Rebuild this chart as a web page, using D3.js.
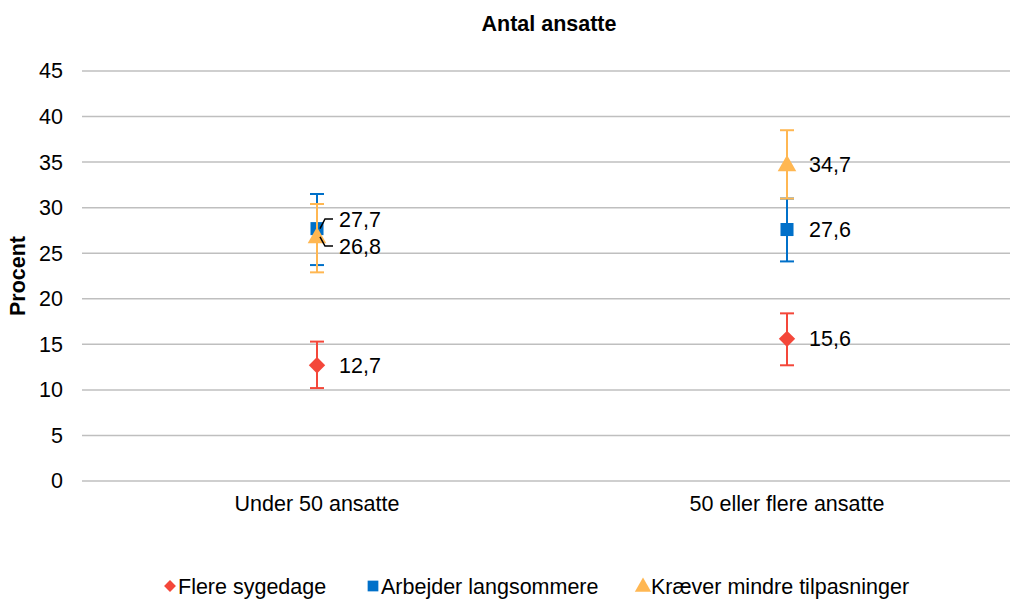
<!DOCTYPE html>
<html>
<head>
<meta charset="utf-8">
<script src="https://cdn.jsdelivr.net/npm/d3@7"></script>
<style>
  body { margin: 0; background: #fff; }
  text { font-family: "Liberation Sans", Arial, sans-serif; }
</style>
</head>
<body>
<script>
// Data
const categories = ["Under 50 ansatte", "50 eller flere ansatte"];
const seriesNames = ["Flere sygedage", "Arbejder langsommere", "Kræver mindre tilpasninger"];
const sygedage = [12.7, 15.6];
const sygedageLow = [10.2, 12.7];
const sygedageHigh = [15.3, 18.4];
const langsommere = [27.7, 27.6];
const langsommereLow = [23.7, 24.1];
const langsommereHigh = [31.5, 31.0];
const tilpasninger = [26.8, 34.7];
const tilpasningerLow = [22.9, 31.0];
const tilpasningerHigh = [30.4, 38.5];
const yTicks = [0, 5, 10, 15, 20, 25, 30, 35, 40, 45];

const colors = ["#F4473A", "#0070C9", "#FFB752"];
const shapes = [d3.symbolDiamond2, d3.symbolSquare, d3.symbolTriangle];

const width = 1010;
const height = 601;
const fs = 21.5;

const svg = d3.select("body").append("svg")
    .attr("width", width)
    .attr("height", height);

const x = d3.scaleBand().domain(categories).range([82, 1022]);
const y = d3.scaleLinear().domain([0, 45]).range([481, 71]);

// gitterlinjer
svg.append("g").selectAll("line")
    .data(yTicks)
    .enter().append("line")
    .attr("x1", 82).attr("x2", width)
    .attr("y1", d => y(d)).attr("y2", d => y(d))
    .attr("stroke", "#BFBFBF").attr("stroke-width", 1.5);

const yAxis = svg.append("g")
    .attr("transform", "translate(82,0)")
    .call(d3.axisLeft(y).tickValues(yTicks).tickSize(0).tickPadding(19));
yAxis.select(".domain").remove();
yAxis.selectAll("text").attr("font-size", fs).attr("fill", "#000")
    .style("font-family", "Liberation Sans, Arial, sans-serif");

const xAxis = svg.append("g")
    .attr("transform", "translate(0,481)")
    .call(d3.axisBottom(x).tickSize(0).tickPadding(15));
xAxis.select(".domain").remove();
xAxis.selectAll("text").attr("font-size", fs).attr("fill", "#000")
    .style("font-family", "Liberation Sans, Arial, sans-serif");

svg.append("text")
    .attr("x", 549).attr("y", 31)
    .attr("text-anchor", "middle")
    .attr("font-size", fs).attr("font-weight", "bold")
    .text("Antal ansatte");

svg.append("text")
    .attr("transform", "translate(25,276) rotate(-90)")
    .attr("text-anchor", "middle")
    .attr("font-size", fs).attr("font-weight", "bold")
    .text("Procent");

const series = [
    { name: seriesNames[0], vals: sygedage, lo: sygedageLow, hi: sygedageHigh },
    { name: seriesNames[1], vals: langsommere, lo: langsommereLow, hi: langsommereHigh },
    { name: seriesNames[2], vals: tilpasninger, lo: tilpasningerLow, hi: tilpasningerHigh }
];

const cx = c => x(c) + x.bandwidth() / 2;

// fejlsøjler og markører
series.forEach((s, si) => {
    const g = svg.append("g");
    categories.forEach((c, i) => {
        const px = cx(c);
        g.append("line")
            .attr("x1", px).attr("x2", px)
            .attr("y1", y(s.lo[i])).attr("y2", y(s.hi[i]))
            .attr("stroke", colors[si]).attr("stroke-width", 2);
        [s.lo[i], s.hi[i]].forEach(v => {
            g.append("line")
                .attr("x1", px - 7).attr("x2", px + 7)
                .attr("y1", y(v)).attr("y2", y(v))
                .attr("stroke", colors[si]).attr("stroke-width", 2);
        });
        g.append("path")
            .attr("d", d3.symbol().type(shapes[si]).size(si === 2 ? 150 : 170)())
            .attr("transform", `translate(${px},${y(s.vals[i]) + (si === 2 ? 1 : 0)})`)
            .attr("fill", colors[si]);
    });
});

// dataetiketter
const fmt = v => v.toFixed(1).replace(".", ",");
const labels = [
    { si: 0, ci: 0, ly: null },
    { si: 1, ci: 0, ly: 219 },
    { si: 2, ci: 0, ly: 246 },
    { si: 0, ci: 1, ly: null },
    { si: 1, ci: 1, ly: null },
    { si: 2, ci: 1, ly: null }
];
labels.forEach(l => {
    const s = series[l.si];
    const c = categories[l.ci];
    const px = cx(c);
    const py = y(s.vals[l.ci]);
    const ty = l.ly === null ? py : l.ly;
    if (l.ly !== null) {
        // forbindelseslinje
        const pts = [[px + 3, py], [px + 8, ty], [px + 16, ty]];
        svg.append("path")
            .attr("d", d3.line()(pts))
            .attr("fill", "none").attr("stroke", "#000").attr("stroke-width", 1.5);
    }
    svg.append("text")
        .attr("x", px + 22).attr("y", ty)
        .attr("dy", "0.35em")
        .attr("font-size", fs)
        .text(fmt(s.vals[l.ci]));
});

// legende
const legendX = [170, 373, 643];
const legendY = 586;
const legend = svg.append("g");
series.forEach((s, si) => {
    legend.append("path")
        .attr("d", d3.symbol().type(shapes[si]).size(si === 0 ? 90 : 115)())
        .attr("transform", `translate(${legendX[si]},${si === 2 ? legendY + 1 : legendY})`)
        .attr("fill", colors[si]);
    legend.append("text")
        .attr("x", legendX[si] + 8).attr("y", legendY)
        .attr("dy", "0.35em")
        .attr("font-size", fs)
        .text(s.name);
});
</script>
</body>
</html>
